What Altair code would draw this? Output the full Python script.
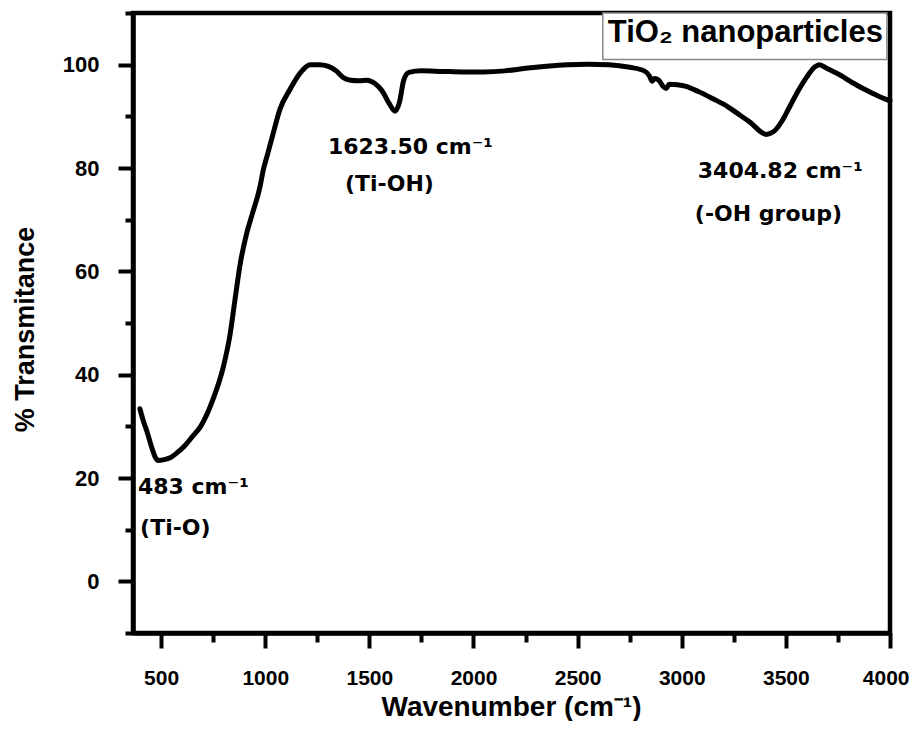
import altair as alt
import pandas as pd

# FTIR spectrum of TiO2 nanoparticles
wavenumber = [398, 415, 432, 452, 471, 485, 510, 543, 580, 615, 650, 690, 750, 800, 830,
              855, 880, 910, 940, 975, 990, 1010, 1040, 1070, 1120, 1170, 1215, 1260, 1300,
              1340, 1375, 1410, 1450, 1490, 1525, 1560, 1595, 1623, 1645, 1665, 1690, 1750,
              1850, 1950, 2050, 2150, 2250, 2350, 2450, 2550, 2650, 2750, 2820, 2845, 2858,
              2870, 2890, 2910, 2925, 2940, 2980, 3020, 3080, 3150, 3220, 3280, 3330, 3380,
              3405, 3440, 3480, 3520, 3560, 3600, 3640, 3660, 3700, 3760, 3820, 3880, 3940, 4000]
transmittance = [33.4, 31.0, 29.0, 26.3, 24.1, 23.4, 23.5, 23.9, 25.0, 26.3, 28.0, 30.0, 35.3, 41.7, 47.5,
                 54.6, 61.5, 67.2, 71.4, 76.4, 79.5, 82.5, 87.0, 91.3, 95.3, 98.5, 100.0, 100.0, 99.7,
                 98.8, 97.5, 97.0, 96.9, 97.0, 96.4, 95.0, 92.5, 91.0, 92.8, 97.0, 98.5, 98.8,
                 98.7, 98.6, 98.6, 98.8, 99.3, 99.7, 100.0, 100.1, 100.0, 99.5, 98.8, 97.8, 96.8,
                 97.3, 97.0, 95.8, 95.4, 96.2, 96.1, 95.8, 94.8, 93.4, 91.9, 90.2, 88.8, 87.0,
                 86.5, 87.0, 89.0, 92.0, 95.0, 97.6, 99.6, 100.0, 99.2, 98.0, 96.5, 95.2, 94.0, 93.0]

# peak annotations (data coordinates)
ann_text = ["483 cm\u207b\u00b9", "(Ti-O)", "1623.50 cm\u207b\u00b9", "(Ti-OH)",
            "3404.82 cm\u207b\u00b9", "(-OH group)"]
ann_x = [389, 399, 1301, 1383, 3077, 3063]
ann_y = [17.0, 8.9, 82.8, 75.5, 78.0, 69.7]

# legend box
box_label = ["TiO\u2082 nanoparticles"]
box_x, box_x2, box_y, box_y2 = [2621], [3985], [110], [101]
box_tx, box_ty = [2645], [104.3]

x_major = list(range(500, 4001, 500))
x_minor = list(range(750, 4000, 500))
y_major = list(range(0, 101, 20))
y_minor = list(range(-10, 111, 20))

spec_df = pd.DataFrame({"w": wavenumber, "t": transmittance})
ann_df = pd.DataFrame({"text": ann_text, "x": ann_x, "y": ann_y})
box_df = pd.DataFrame({"label": box_label, "x": box_x, "x2": box_x2, "y": box_y,
                       "y2": box_y2, "tx": box_tx, "ty": box_ty})

FONT = "Liberation Sans"
ANN_FONT = "DejaVu Sans"

xscale = alt.Scale(domain=[365, 4000], nice=False, zero=False)
yscale = alt.Scale(domain=[-10, 110], nice=False, zero=False)

xaxis = alt.Axis(
    title="Wavenumber (cm\u207b\u00b9)", values=x_major, grid=False, format="d",
    orient="bottom", tickSize=15, tickWidth=4, tickColor="black",
    domainWidth=4.5, domainColor="black",
    labelFont=FONT, labelFontWeight="bold", labelFontSize=21, labelColor="black",
    labelPadding=19, labelFlush=True, labelFlushOffset=19,
    titleFont=FONT, titleFontWeight="bold", titleFontSize=28, titleColor="black",
    titleBaseline="alphabetic", titleY=82, titleX=378,
)
yaxis = alt.Axis(
    title="% Transmitance", values=y_major, grid=False, format="d",
    orient="left", tickSize=15, tickWidth=4, tickColor="black",
    domainWidth=4.5, domainColor="black",
    labelFont=FONT, labelFontWeight="bold", labelFontSize=22, labelColor="black",
    labelPadding=19, labelFlush=False,
    titleFont=FONT, titleFontWeight="bold", titleFontSize=27, titleColor="black",
    titleBaseline="alphabetic", titleX=-100, titleY=316, titleAngle=-90,
)
xaxis_minor = alt.Axis(title=None, values=x_minor, grid=False, labels=False, domain=False,
                       orient="bottom", tickSize=9, tickWidth=4, tickColor="black")
yaxis_minor = alt.Axis(title=None, values=y_minor, grid=False, labels=False, domain=False,
                       orient="left", tickSize=8, tickWidth=4, tickColor="black")

box = alt.Chart(box_df).mark_rect(fill="white", stroke="#888888", strokeWidth=1.5).encode(
    x=alt.X("x:Q", scale=xscale, axis=xaxis_minor),
    x2="x2:Q",
    y=alt.Y("y:Q", scale=yscale, axis=yaxis_minor),
    y2="y2:Q",
)
box_text = alt.Chart(box_df).mark_text(
    align="left", baseline="alphabetic", font=FONT, fontWeight="bold", fontSize=31, color="black"
).encode(x=alt.X("tx:Q", scale=xscale, axis=None),
         y=alt.Y("ty:Q", scale=yscale, axis=None), text="label:N")

line = alt.Chart(spec_df).mark_line(color="black", strokeWidth=5, interpolate="monotone",
                                    strokeJoin="round", strokeCap="round").encode(
    x=alt.X("w:Q", scale=xscale, axis=xaxis), y=alt.Y("t:Q", scale=yscale, axis=yaxis)
)

ann = alt.Chart(ann_df).mark_text(
    align="left", baseline="alphabetic", font=ANN_FONT, fontWeight="bold", fontSize=22, color="black"
).encode(x=alt.X("x:Q", scale=xscale, axis=None),
         y=alt.Y("y:Q", scale=yscale, axis=None), text="text:N")

chart = alt.layer(box, line, box_text, ann).resolve_axis(
    x="independent", y="independent"
).properties(
    width=757, height=620,
    autosize=alt.AutoSizeParams(type="none"),
    padding={"left": 125, "top": 5, "right": 19, "bottom": 88},
    background="white",
).configure_view(stroke="black", strokeWidth=4.5)

chart.save("out.html", embed_options={"renderer": "svg", "actions": False})
